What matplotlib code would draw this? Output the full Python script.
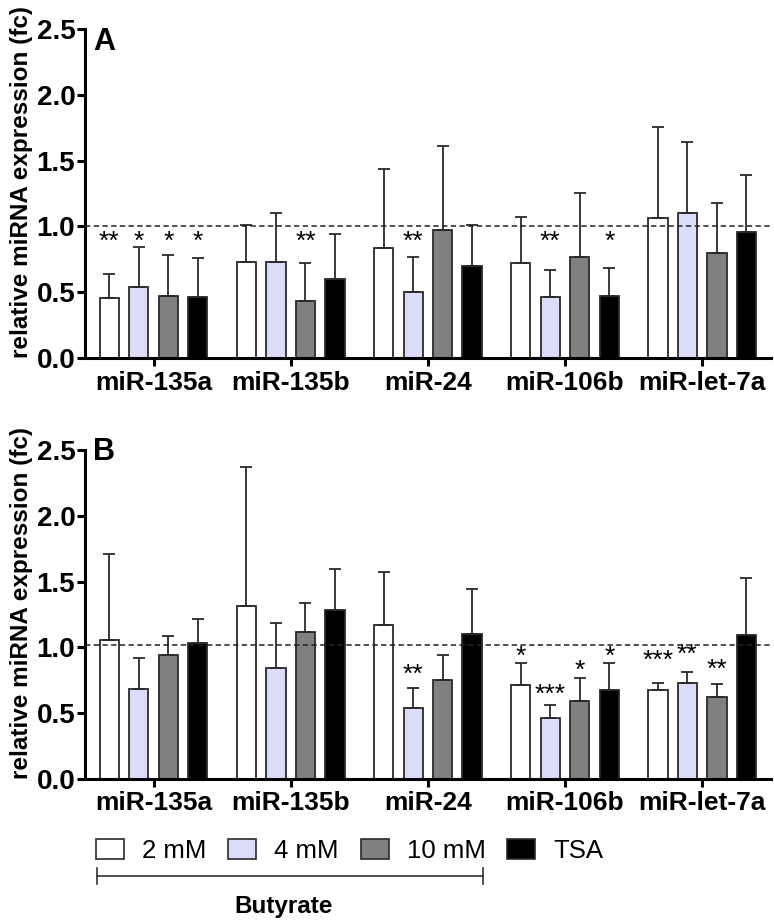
import numpy as np
import matplotlib
matplotlib.use("Agg")
import matplotlib.pyplot as plt
from matplotlib.patches import Patch

plt.rcParams['font.family'] = ['Liberation Sans', 'DejaVu Sans']

mirnas = ["miR-135a", "miR-135b", "miR-24", "miR-106b", "miR-let-7a"]
treatments = ["2 mM", "4 mM", "10 mM", "TSA"]
colors = ["#ffffff", "#dcdcf8", "#808080", "#000000"]

# panel A  (rows: 2 mM, 4 mM, 10 mM, TSA ; cols: miRNAs)
a_mean = [[0.456, 0.73, 0.834, 0.72, 1.066],
          [0.54, 0.73, 0.50, 0.46, 1.10],
          [0.47, 0.435, 0.974, 0.767, 0.80],
          [0.46, 0.60, 0.70, 0.47, 0.954]]
a_sd = [[0.184, 0.28, 0.603, 0.354, 0.691],
        [0.30, 0.37, 0.27, 0.21, 0.54],
        [0.31, 0.285, 0.636, 0.489, 0.38],
        [0.30, 0.34, 0.31, 0.215, 0.436]]
a_stars = [["**", "", "", "", ""],
           ["*", "", "**", "**", ""],
           ["*", "**", "", "", ""],
           ["*", "", "", "*", ""]]
a_star_y = [[0.88] * 5] * 4

# panel B
b_mean = [[1.053, 1.313, 1.173, 0.718, 0.677],
          [0.687, 0.845, 0.542, 0.463, 0.733],
          [0.941, 1.115, 0.75, 0.593, 0.62],
          [1.036, 1.288, 1.104, 0.677, 1.097]]
b_sd = [[0.657, 1.057, 0.40, 0.165, 0.051],
        [0.234, 0.341, 0.153, 0.102, 0.077],
        [0.143, 0.221, 0.194, 0.173, 0.10],
        [0.18, 0.307, 0.339, 0.201, 0.427]]
b_stars = [["", "", "", "*", "***"],
           ["", "", "**", "***", "**"],
           ["", "", "", "*", "**"],
           ["", "", "", "*", ""]]
b_star_y = [[0, 0, 0, 0.93, 0.90],
            [0, 0, 0.79, 0.64, 0.94],
            [0, 0, 0, 0.82, 0.83],
            [0, 0, 0, 0.93, 0]]


def draw_panel(ax, mean, sd, stars, star_y, ref, letter, letter_y):
    x = np.arange(len(mirnas))
    width = 0.14
    for i in range(len(treatments)):
        xs = x + (i - 1.5) * 0.215
        ax.bar(xs, mean[i], width, color=colors[i], edgecolor="#2a2a2a",
               linewidth=1.3, zorder=2)
        ax.errorbar(xs, mean[i], yerr=[np.zeros(len(x)), sd[i]], fmt="none",
                    ecolor="#2a2a2a", elinewidth=1.3, capsize=4.5,
                    capthick=1.3, zorder=3)
        for j in range(len(x)):
            if stars[i][j]:
                ax.text(xs[j], star_y[i][j], stars[i][j], ha="center",
                        va="center", fontsize=19)
    ax.axhline(ref, color="#222222", lw=1.1, ls=(0, (3.5, 2.2)), zorder=4)
    ax.set_xlim(-0.5, 4.5)
    ax.set_ylim(0, 2.5)
    ax.set_yticks([0, 0.5, 1.0, 1.5, 2.0, 2.5])
    ax.set_yticklabels(["0.0", "0.5", "1.0", "1.5", "2.0", "2.5"],
                       fontweight="bold", fontsize=20)
    ax.set_xticks(x)
    ax.set_xticklabels(mirnas, fontweight="bold", fontsize=19)
    for s in ["top", "right"]:
        ax.spines[s].set_visible(False)
    for s in ["left", "bottom"]:
        ax.spines[s].set_linewidth(2.2)
    ax.tick_params(axis="both", direction="out", length=6, width=2.2)
    ax.tick_params(axis="x", pad=3)
    ax.tick_params(axis="y", pad=1)
    ax.set_ylabel("relative miRNA expression (fc)", fontweight="bold",
                  fontsize=17.5)
    ax.yaxis.set_label_coords(-0.076, 0.535)
    ax.text(0.012, letter_y, letter, transform=ax.transAxes, fontsize=22,
            fontweight="bold", va="top", ha="left")


fig = plt.figure(figsize=(7.74, 9.22), dpi=100)
ax1 = fig.add_axes([0.1098, 0.6117, 0.886, 0.3568])
ax2 = fig.add_axes([0.1098, 0.1551, 0.886, 0.3568])

draw_panel(ax1, a_mean, a_sd, a_stars, a_star_y, 1.0, "A", 1.006)
draw_panel(ax2, b_mean, b_sd, b_stars, b_star_y, 1.015, "B", 1.04)

handles = [Patch(facecolor=c, edgecolor="#2a2a2a", linewidth=1.2) for c in colors]
fig.legend(handles, treatments, loc="center left", ncol=4,
           bbox_to_anchor=(0.124, 1 - 851 / 922), frameon=False, fontsize=18.5,
           handlelength=1.09, handleheight=0.78, handletextpad=0.7,
           columnspacing=0.85, borderpad=0, borderaxespad=0)

# Butyrate bracket
y_br = 1 - 876 / 922
fig.add_artist(plt.Line2D([97 / 774, 483 / 774], [y_br, y_br], color="#333333", lw=1.2))
for xb in [97 / 774, 483 / 774]:
    fig.add_artist(plt.Line2D([xb, xb], [y_br - 0.009, y_br + 0.009], color="#333333", lw=1.2))
fig.text(284 / 774, 1 - 906 / 922, "Butyrate", ha="center", va="center",
         fontsize=17.5, fontweight="bold")

fig.savefig("out.png", dpi=100)
